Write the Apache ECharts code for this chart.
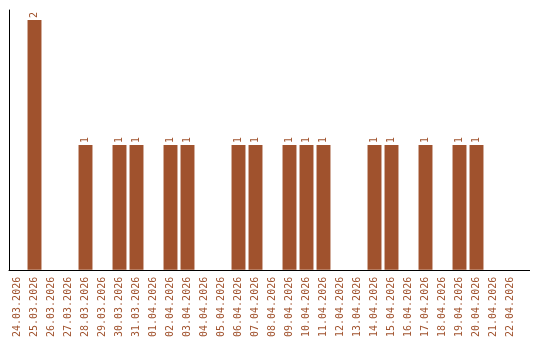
<!DOCTYPE html>
<html>
<head>
<meta charset="utf-8">
<script src="https://cdn.jsdelivr.net/npm/echarts@6/dist/echarts.min.js"></script>
<style>html,body{margin:0;padding:0;background:#fff}#c{width:540px;height:340px}</style>
</head>
<body>
<div id="c"></div>
<script>
var categories = ["24.03.2026","25.03.2026","26.03.2026","27.03.2026","28.03.2026","29.03.2026","30.03.2026","31.03.2026","01.04.2026","02.04.2026","03.04.2026","04.04.2026","05.04.2026","06.04.2026","07.04.2026","08.04.2026","09.04.2026","10.04.2026","11.04.2026","12.04.2026","13.04.2026","14.04.2026","15.04.2026","16.04.2026","17.04.2026","18.04.2026","19.04.2026","20.04.2026","21.04.2026","22.04.2026"];
var values = [0,2,0,0,1,0,1,1,0,1,1,0,0,1,1,0,1,1,1,0,0,1,1,0,1,0,1,1,0,0];

var chart = echarts.init(document.getElementById('c'), null, {renderer:'canvas'});
chart.setOption({
  animation: false,
  backgroundColor: '#ffffff',
  grid: {left: 9, right: 21, top: 10, bottom: 70, containLabel: false},
  graphic: [{
    type: 'line', silent: true,
    shape: {x1: 518, y1: 270.5, x2: 530, y2: 270.5},
    style: {stroke: '#000', lineWidth: 1}
  }],
  xAxis: {
    type: 'category',
    data: categories,
    axisLine: {show: true, lineStyle: {color: '#000', width: 1}},
    axisTick: {show: false},
    axisLabel: {rotate: 90, interval: 0, margin: 7, color: '#A0522D', fontFamily: 'DejaVu Sans Mono', fontSize: 10}
  },
  yAxis: {
    type: 'value', min: 0, max: 2.08,
    axisLine: {show: true, lineStyle: {color: '#000', width: 1}},
    axisTick: {show: false},
    axisLabel: {show: false},
    splitLine: {show: false}
  },
  series: [{
    type: 'bar',
    data: values,
    barCategoryGap: '18%',
    itemStyle: {color: '#A0522D'},
    label: {
      show: true, position: 'top', rotate: 90, align: 'left', verticalAlign: 'middle', distance: 2,
      color: '#A0522D', fontFamily: 'DejaVu Sans Mono', fontSize: 10,
      formatter: function(p){ return p.value ? String(p.value) : ''; }
    }
  }]
});
</script>
</body>
</html>
